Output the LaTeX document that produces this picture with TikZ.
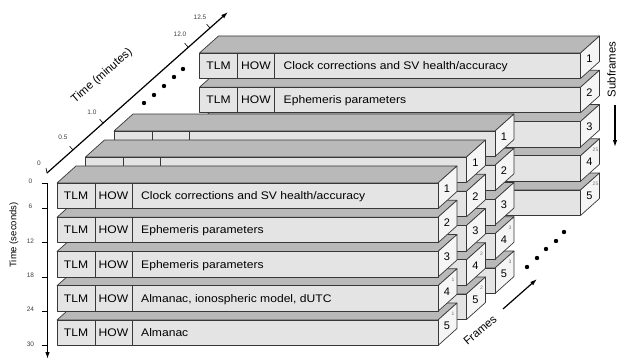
\documentclass[tikz,border=0pt]{standalone}
\usepackage{fontspec}
\setmainfont{Liberation Sans}
\usetikzlibrary{arrows.meta}
\definecolor{topface}{HTML}{B9B9B9}
\definecolor{frontface}{HTML}{E4E4E4}
\definecolor{sideface}{HTML}{F5F5F5}
\definecolor{edge}{HTML}{383838}
% one subframe block: name, x, y, number, page
\newcommand{\sfblock}[5]{%
  \coordinate (#1) at (#2,#3);
  \filldraw[face, fill=topface] (#1) -- ++(19,-17) -- ++(381,0) -- ++(-19,17) -- cycle;
  \filldraw[face, fill=sideface] (#1) ++(381,0) -- ++(19,-17) -- ++(0,25.5) -- ++(-19,17) -- cycle;
  \filldraw[face, fill=frontface] (#1) rectangle ++(381,25.5);
  \draw[face] (#1) ++(38,0) -- ++(0,25.5);
  \draw[face] (#1) ++(75,0) -- ++(0,25.5);
  \node[num] (#1_n) at ([shift={(390,5.5)}]#1) {#4};
  \node[page] (#1_p) at ([shift={(396,-6)}]#1) {#5};
}
% words on the front of a block
\newcommand{\sftext}[2]{%
  \node[txt] (#1_tlm) at ([shift={(19,12.75)}]#1) {TLM};
  \node[txt] (#1_how) at ([shift={(56.5,12.75)}]#1) {HOW};
  \node[txt, anchor=west] (#1_d) at ([shift={(84,12.75)}]#1) {#2};
}
\begin{document}
\begin{tikzpicture}[x=1pt, y=-1pt,
  face/.style={draw=edge, line width=0.7pt, line join=round},
  txt/.style={font=\fontsize{11}{13}\selectfont, xscale=1.1, inner sep=0pt, text height=7.7pt, text depth=0pt},
  num/.style={font=\fontsize{11}{13}\selectfont, inner sep=0pt},
  page/.style={font=\fontsize{5}{5}\selectfont, text=black!55, inner sep=0pt},
  tick/.style={font=\fontsize{6.5}{7}\selectfont, text=darkgray, inner sep=0pt},
  axis/.style={line width=1.2pt, -{Latex[length=7pt,width=4.5pt]}},
  dot/.style={circle, fill=black, inner sep=0pt, minimum size=4.4pt}]
\useasboundingbox (0,0) rectangle (618,361);
% time in minutes
\coordinate (m0) at (47,173);
\coordinate (m05) at (73,150);
\coordinate (m10) at (103,123);
\coordinate (m120) at (188,47);
\coordinate (m125) at (210,28);
\coordinate (mend) at (228,12);
\draw[axis] (m0) -- (mend);
\draw[line width=0.6pt] (m0) -- ++(-1,-5);
\draw[line width=0.6pt] (m05) -- ++(-3.3,-3.7);
\draw[line width=0.6pt] (m10) -- ++(-3.3,-3.7);
\draw[line width=0.6pt] (m120) -- ++(-3.3,-3.7);
\draw[line width=0.6pt] (m125) -- ++(-3.3,-3.7);
\node[tick] (l_m0) at (39,163) {0};
\node[tick] (l_m05) at (63,137) {0.5};
\node[tick] (l_m10) at (92,112) {1.0};
\node[tick] (l_m120) at (180,34) {12.0};
\node[tick] (l_m125) at (200,17) {12.5};
\node[font=\fontsize{11.5}{13}\selectfont, rotate=41] (minutes) at (102,76) {Time (minutes)};
\node[dot] (md1) at (144,103) {};
\node[dot] (md2) at (154,95) {};
\node[dot] (md3) at (164,86) {};
\node[dot] (md4) at (174,77) {};
\node[dot] (md5) at (183,69) {};
% frame 25
\sfblock{F25_S5}{199.5}{190}{5}{25}
\sfblock{F25_S4}{199.5}{155.75}{4}{25}
\sfblock{F25_S3}{199.5}{121.5}{3}{}
\sfblock{F25_S2}{199.5}{87.25}{2}{}
\sftext{F25_S2}{Ephemeris parameters}
\sfblock{F25_S1}{199.5}{53}{1}{}
\sftext{F25_S1}{Clock corrections and SV health/accuracy}
% frame 3
\sfblock{F3_S5}{114}{268}{5}{3}
\sfblock{F3_S4}{114}{233.75}{4}{3}
\sfblock{F3_S3}{114}{199.5}{3}{}
\sfblock{F3_S2}{114}{165.25}{2}{}
\sfblock{F3_S1}{114}{131}{1}{}
% frame 2
\sfblock{F2_S5}{85.5}{294}{5}{2}
\sfblock{F2_S4}{85.5}{259.75}{4}{2}
\sfblock{F2_S3}{85.5}{225.5}{3}{}
\sfblock{F2_S2}{85.5}{191.25}{2}{}
\sfblock{F2_S1}{85.5}{157}{1}{}
% frame 1
\sfblock{F1_S5}{57}{320}{5}{1}
\sftext{F1_S5}{Almanac}
\sfblock{F1_S4}{57}{285.75}{4}{1}
\sftext{F1_S4}{Almanac, ionospheric model, dUTC}
\sfblock{F1_S3}{57}{251.5}{3}{}
\sftext{F1_S3}{Ephemeris parameters}
\sfblock{F1_S2}{57}{217.25}{2}{}
\sftext{F1_S2}{Ephemeris parameters}
\sfblock{F1_S1}{57}{183}{1}{}
\sftext{F1_S1}{Clock corrections and SV health/accuracy}
% time in seconds
\coordinate (s0) at (47.5,183);
\coordinate (s6) at (47.5,208.5);
\coordinate (s12) at (47.5,242.75);
\coordinate (s18) at (47.5,277);
\coordinate (s24) at (47.5,311.25);
\coordinate (s30) at (47.5,345.5);
\coordinate (send) at (47.5,359);
\draw[axis] (s0) -- (send);
\draw[line width=0.6pt] (s0) -- ++(-5.5,0);
\draw[line width=0.6pt] (s6) -- ++(-5.5,0);
\draw[line width=0.6pt] (s12) -- ++(-5.5,0);
\draw[line width=0.6pt] (s18) -- ++(-5.5,0);
\draw[line width=0.6pt] (s24) -- ++(-5.5,0);
\draw[line width=0.6pt] (s30) -- ++(-5.5,0);
\node[tick] (l_s0) at (30.5,181) {0};
\node[tick] (l_s6) at (30.5,206.5) {6};
\node[tick] (l_s12) at (30.5,241) {12};
\node[tick] (l_s18) at (30.5,275) {18};
\node[tick] (l_s24) at (30.5,309.5) {24};
\node[tick] (l_s30) at (30.5,344) {30};
\node[font=\fontsize{9.5}{11}\selectfont, rotate=90] (seconds) at (14,235) {Time (seconds)};
% subframes and frames
\node[font=\fontsize{11.4}{13}\selectfont, rotate=90, inner sep=0pt] (subframes) at (611.5,69.5) {Subframes};
\coordinate (sf_top) at (615,105);
\coordinate (sf_bot) at (615,147);
\draw[axis] (sf_top) -- (sf_bot);
\node[font=\fontsize{11.5}{13}\selectfont, rotate=40] (frames) at (480,330) {Frames};
\coordinate (fr_a) at (503,309);
\coordinate (fr_b) at (537,279);
\draw[axis] (fr_a) -- (fr_b);
\node[dot] (fd1) at (527,267) {};
\node[dot] (fd2) at (537,258) {};
\node[dot] (fd3) at (546,249) {};
\node[dot] (fd4) at (556,241) {};
\node[dot] (fd5) at (564,232) {};
\end{tikzpicture}
\end{document}
